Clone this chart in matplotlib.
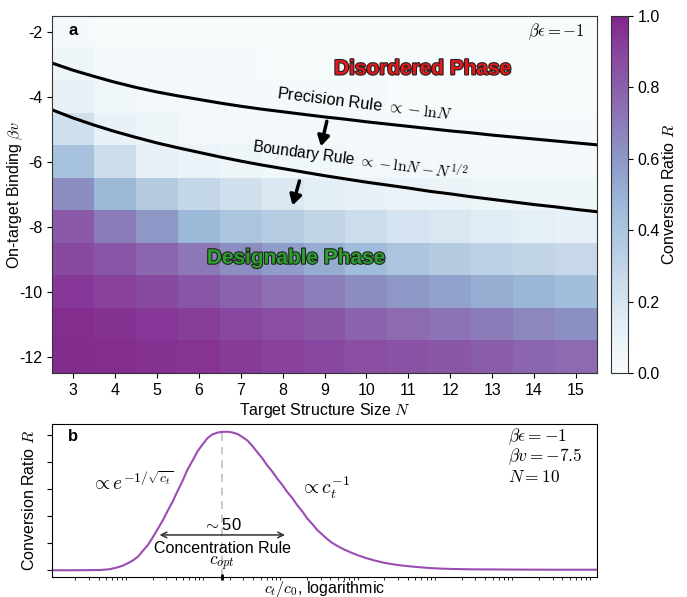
import numpy as np
import matplotlib
matplotlib.use('Agg')
import matplotlib.pyplot as plt
import matplotlib.patheffects as pe
from matplotlib.colors import LinearSegmentedColormap

plt.rcParams['font.family'] = ['Liberation Sans', 'DejaVu Sans']
plt.rcParams['mathtext.fontset'] = 'cm'
plt.rcParams['axes.unicode_minus'] = False

# panel a: conversion ratio R on the (N, beta v) grid, rows from beta v = -2 down to -12
sizes = [3, 4, 5, 6, 7, 8, 9, 10, 11, 12, 13, 14, 15]
binding = [-2, -3, -4, -5, -6, -7, -8, -9, -10, -11, -12]
R_grid = [
    [0.02, 0.01, 0.01, 0.01, 0.01, 0.01, 0.01, 0.01, 0.01, 0.01, 0.01, 0.01, 0.01],
    [0.06, 0.03, 0.02, 0.02, 0.02, 0.01, 0.01, 0.01, 0.01, 0.01, 0.01, 0.01, 0.01],
    [0.10, 0.05, 0.03, 0.03, 0.02, 0.02, 0.02, 0.02, 0.01, 0.01, 0.01, 0.01, 0.01],
    [0.22, 0.10, 0.06, 0.04, 0.04, 0.03, 0.03, 0.03, 0.02, 0.02, 0.02, 0.02, 0.02],
    [0.42, 0.24, 0.11, 0.08, 0.06, 0.05, 0.05, 0.04, 0.04, 0.03, 0.03, 0.03, 0.03],
    [0.64, 0.47, 0.36, 0.28, 0.22, 0.17, 0.13, 0.10, 0.09, 0.08, 0.07, 0.06, 0.06],
    [0.82, 0.70, 0.60, 0.47, 0.40, 0.35, 0.30, 0.25, 0.21, 0.18, 0.15, 0.12, 0.10],
    [0.88, 0.84, 0.78, 0.71, 0.64, 0.58, 0.52, 0.45, 0.40, 0.36, 0.32, 0.29, 0.27],
    [0.94, 0.91, 0.88, 0.84, 0.79, 0.74, 0.69, 0.64, 0.60, 0.56, 0.52, 0.48, 0.44],
    [0.97, 0.96, 0.94, 0.92, 0.89, 0.86, 0.83, 0.79, 0.76, 0.73, 0.70, 0.66, 0.63],
    [0.98, 0.97, 0.96, 0.95, 0.93, 0.91, 0.89, 0.87, 0.85, 0.83, 0.81, 0.78, 0.76],
]

# phase boundary curves
N_curve = [2.5, 3, 3.5, 4, 4.5, 5, 5.5, 6, 6.5, 7, 7.5, 8, 8.5, 9, 9.5, 10, 10.5,
           11, 11.5, 12, 12.5, 13, 13.5, 14, 14.5, 15, 15.5]
precision = [-2.95, -3.17, -3.36, -3.54, -3.70, -3.84, -3.96, -4.07, -4.18, -4.28, -4.37,
             -4.45, -4.53, -4.61, -4.68, -4.76, -4.83, -4.90, -4.97, -5.04, -5.10, -5.17,
             -5.23, -5.29, -5.35, -5.41, -5.47]
boundary = [-4.39, -4.64, -4.86, -5.06, -5.24, -5.41, -5.56, -5.70, -5.84, -5.97, -6.09,
            -6.20, -6.31, -6.42, -6.52, -6.62, -6.71, -6.80, -6.90, -6.98, -7.07, -7.15,
            -7.23, -7.31, -7.38, -7.46, -7.53]

# panel b: R versus c_t/c_0 (given as log10 of concentration)
log_ct = [0, 0.3, 0.5, 0.63, 0.75, 0.85, 0.92, 0.98, 1.05, 1.11, 1.17, 1.24, 1.30, 1.36,
          1.43, 1.49, 1.56, 1.62, 1.69, 1.75, 1.82, 1.88, 1.95, 2.01, 2.07, 2.14, 2.20,
          2.27, 2.33, 2.40, 2.46, 2.53, 2.59, 2.65, 2.72, 2.78, 2.85, 2.91, 2.98, 3.04,
          3.11, 3.17, 3.24, 3.30, 3.37, 3.43, 3.50, 3.56, 3.62, 3.69, 3.77, 3.86, 3.96,
          4.07, 4.18, 4.29, 4.40, 4.50, 4.61, 4.72, 4.83, 4.93, 5.04, 5.15, 5.41, 5.7,
          6.0, 6.5, 7.05]
R_curve = [0.0, 0.0, 0.001, 0.002, 0.008, 0.022, 0.035, 0.052, 0.074, 0.10, 0.14, 0.187,
           0.24, 0.298, 0.365, 0.433, 0.507, 0.581, 0.662, 0.741, 0.812, 0.877, 0.932,
           0.976, 1.003, 1.017, 1.023, 1.024, 1.019, 1.007, 0.986, 0.958, 0.920, 0.877,
           0.828, 0.778, 0.729, 0.680, 0.630, 0.581, 0.532, 0.483, 0.433, 0.384, 0.340,
           0.298, 0.262, 0.231, 0.204, 0.180, 0.156, 0.133, 0.110, 0.089, 0.071, 0.056,
           0.045, 0.037, 0.030, 0.024, 0.019, 0.015, 0.012, 0.010, 0.007, 0.006, 0.005,
           0.004, 0.004]
log_copt = 2.2
log_rule = [1.355, 3.05]

base = plt.get_cmap('BuPu')
cmap = LinearSegmentedColormap.from_list('bupu_cut', base(np.linspace(0, 0.82, 256)))

fig = plt.figure(figsize=(6.87, 5.97), dpi=100)
ax = fig.add_axes([0.0757, 0.3752, 0.7933, 0.598])
cax = fig.add_axes([0.8894, 0.3752, 0.0247, 0.598])
bx = fig.add_axes([0.0757, 0.033, 0.7933, 0.2563])

# ---- panel a
im = ax.imshow(np.array(R_grid), cmap=cmap, vmin=0, vmax=1, aspect='auto',
               interpolation='nearest', origin='upper',
               extent=[sizes[0] - 0.5, sizes[-1] + 0.5, binding[-1] - 0.5, binding[0] + 0.5])
ax.plot(N_curve, precision, color='black', lw=2.2)
ax.plot(N_curve, boundary, color='black', lw=2.2)
ax.set_xlim(2.5, 15.5)
ax.set_ylim(-12.5, -1.5)
ax.set_xticks(sizes)
ax.set_yticks([-2, -4, -6, -8, -10, -12])
ax.tick_params(labelsize=11.5, length=3.5, width=0.8)
ax.set_xlabel('Target Structure Size $N$', fontsize=11.5, labelpad=2)
ax.set_ylabel(r'On-target Binding $\beta v$', fontsize=11.5)
ax.yaxis.set_label_coords(-0.05, 0.5)
for s in ax.spines.values():
    s.set_color('#333333')

ax.annotate('', xy=(8.9, -5.6), xytext=(9.07, -4.66),
            arrowprops=dict(arrowstyle='-|>,head_width=0.35,head_length=0.6', color='black', lw=2.5))
ax.annotate('', xy=(8.22, -7.42), xytext=(8.42, -6.5),
            arrowprops=dict(arrowstyle='-|>,head_width=0.35,head_length=0.6', color='black', lw=2.5))

ax.text(9.97, -4.2, r'Precision Rule $\propto -\mathrm{ln}N$', fontsize=11.8, rotation=-7,
        ha='center', va='center', rotation_mode='anchor')
ax.text(9.85, -5.95, r'Boundary Rule $\propto -\mathrm{ln}N - N^{1/2}$', fontsize=11.2,
        rotation=-7.5, ha='center', va='center', rotation_mode='anchor')

stroke = [pe.withStroke(linewidth=1.6, foreground='#222222')]
ax.text(11.35, -3.13, 'Disordered Phase', color='#e3191c', fontsize=15, fontweight='bold',
        ha='center', va='center', path_effects=stroke)
ax.text(8.33, -8.96, 'Designable Phase', color='#2ca02c', fontsize=15, fontweight='bold',
        ha='center', va='center', path_effects=stroke)

ax.text(0.03, 0.958, 'a', transform=ax.transAxes, fontsize=12, fontweight='bold',
        ha='left', va='center')
ax.text(0.978, 0.955, r'$\beta\epsilon = -1$', transform=ax.transAxes, fontsize=12,
        ha='right', va='center')

cb = fig.colorbar(im, cax=cax)
cb.set_ticks([0, 0.2, 0.4, 0.6, 0.8, 1.0])
cb.ax.tick_params(labelsize=11.5, length=3.5, width=0.8)
cb.set_label('Conversion Ratio $R$', fontsize=11.5, labelpad=1)
cb.outline.set_edgecolor('#333333')

# ---- panel b
ct = [10 ** v for v in log_ct]
bx.plot(ct, R_curve, color='#9a4cb2', lw=1.5)
bx.set_xscale('log')
bx.set_xlim(1, 10 ** 7.05)
bx.set_ylim(-0.052, 1.079)
copt = 10 ** log_copt
bx.plot([copt, copt], [-0.052, 1.02], color='#c8c8c8', lw=1.4, ls=(0, (4, 3)), zorder=1)
bx.set_xticks([copt])
bx.set_xticklabels([''])
bx.tick_params(axis='x', which='major', direction='inout', length=5, width=2)
bx.tick_params(axis='x', which='minor', length=2.5, width=0.6)
bx.set_yticks([0, 0.2, 0.4, 0.6, 0.8, 1.0])
bx.set_yticklabels([])
bx.tick_params(axis='y', length=3.5, width=0.8)
bx.set_ylabel('Conversion Ratio $R$', fontsize=11.5)
bx.yaxis.set_label_coords(-0.027, 0.5)
bx.set_xlabel('$c_t/c_0$, logarithmic', fontsize=11.5)
bx.xaxis.set_label_coords(0.5, -0.008)

bx.annotate('', xy=(10 ** log_rule[0], 0.261), xytext=(10 ** log_rule[1], 0.261),
            arrowprops=dict(arrowstyle='<->', color='#333333', lw=1.1))
bx.text(10 ** 2.2, 0.335, r'$\sim$50', fontsize=12, ha='center', va='center')
bx.text(10 ** 2.2, 0.163, 'Concentration Rule', fontsize=11.5, ha='center', va='center')
bx.text(copt, 0.045, r'$c_{opt}$', fontsize=12.5, ha='center', va='center')
bx.text(10 ** 0.5, 0.645, r'$\propto e^{-1/\sqrt{c_t}}$', fontsize=14, ha='left', va='center')
bx.text(10 ** 3.21, 0.61, r'$\propto c_t^{-1}$', fontsize=14, ha='left', va='center')

bx.text(0.03, 0.917, 'b', transform=bx.transAxes, fontsize=12, fontweight='bold',
        ha='left', va='center')
bx.text(0.837, 0.917, r'$\beta\epsilon = -1$', transform=bx.transAxes, fontsize=12.5, va='center')
bx.text(0.837, 0.786, r'$\beta v = -7.5$', transform=bx.transAxes, fontsize=12.5, va='center')
bx.text(0.837, 0.655, r'$N = 10$', transform=bx.transAxes, fontsize=12.5, va='center')

fig.savefig('out.png', dpi=100)
